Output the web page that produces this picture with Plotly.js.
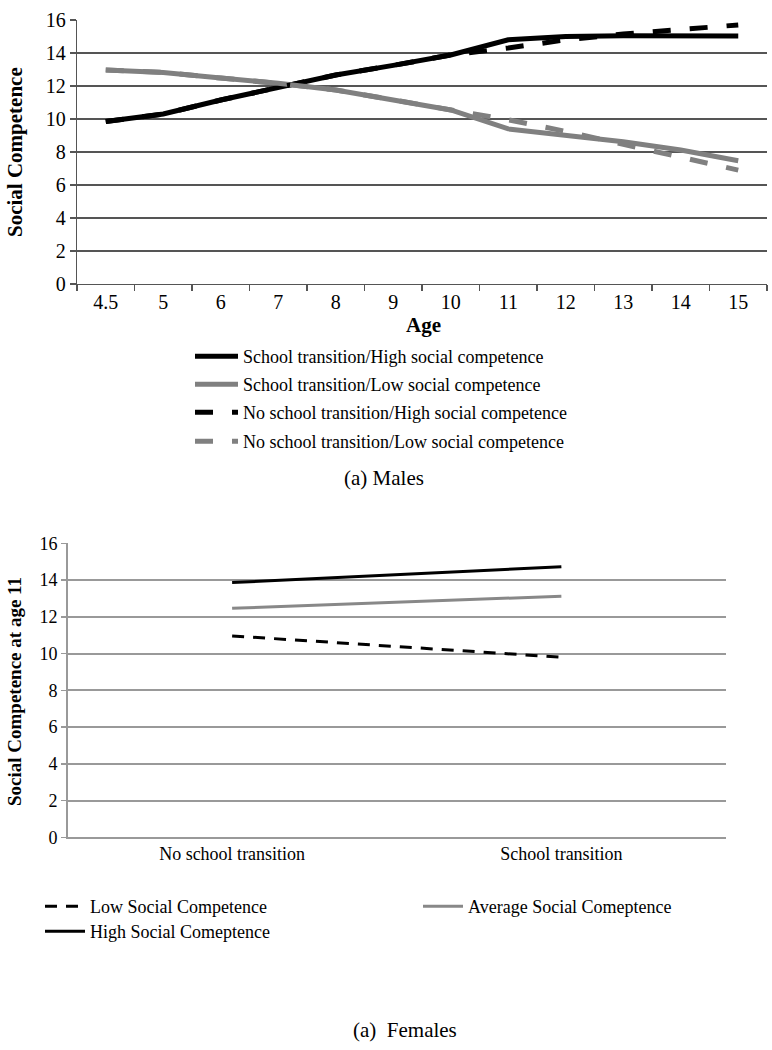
<!DOCTYPE html>
<html>
<head>
<meta charset="utf-8">
<script src="https://cdn.plot.ly/plotly-3.0.1.min.js"></script>
<style>html,body{margin:0;padding:0;background:#fff;}#chart{width:772px;height:1050px;}</style>
</head>
<body>
<div id="chart"></div>
<script>
// ---- Data: (a) Males ----
var ages = ["4.5","5","6","7","8","9","10","11","12","13","14","15"];
var stHigh  = [9.85, 10.3, 11.15, 11.9, 12.67, 13.25, 13.88, 14.8, 15.0, 15.05, 15.05, 15.03];
var stLow   = [12.97, 12.82, 12.48, 12.16, 11.76, 11.15, 10.55, 9.4, 9.03, 8.62, 8.12, 7.47];
var nstHigh = [9.85, 10.3, 11.15, 11.9, 12.67, 13.25, 13.88, 14.3, 14.8, 15.15, 15.4, 15.7];
var nstLow  = [12.97, 12.82, 12.48, 12.16, 11.76, 11.15, 10.55, 9.95, 9.25, 8.45, 7.7, 6.9];
var maleNames = ["School transition/High social competence",
                 "School transition/Low social competence",
                 "No school transition/High social competence",
                 "No school transition/Low social competence"];

// ---- Data: (a) Females ----
var conditions = ["No school transition", "School transition"];
var lowSC  = [10.96, 9.80];
var avgSC  = [12.46, 13.12];
var highSC = [13.86, 14.73];
var femaleNames = ["Low Social Competence", "Average Social Comeptence", "High Social Comeptence"];

var W = 772, H = 1050;
function px(x){ return x / W; }
function py(y){ return 1 - y / H; }
var serif = "Liberation Serif, Times New Roman, serif";
var BLACK = "#000000", GRAY = "#808080";

var traces = [
  {x: ages, y: stHigh, name: maleNames[0], mode: "lines", line: {color: BLACK, width: 5}, xaxis: "x", yaxis: "y", legend: "legend"},
  {x: ages, y: stLow, name: maleNames[1], mode: "lines", line: {color: GRAY, width: 5}, xaxis: "x", yaxis: "y", legend: "legend2"},
  {x: ages, y: nstHigh, name: maleNames[2], mode: "lines", line: {color: BLACK, width: 5, dash: "18px,19px"}, xaxis: "x", yaxis: "y", legend: "legend3"},
  {x: ages, y: nstLow, name: maleNames[3], mode: "lines", line: {color: GRAY, width: 5, dash: "18px,19px"}, xaxis: "x", yaxis: "y", legend: "legend4"},
  {x: conditions, y: lowSC, name: femaleNames[0], mode: "lines", line: {color: BLACK, width: 3, dash: "12px,9px"}, xaxis: "x2", yaxis: "y2", legend: "legend5"},
  {x: conditions, y: avgSC, name: femaleNames[1], mode: "lines", line: {color: "#888888", width: 3}, xaxis: "x2", yaxis: "y2", legend: "legend6"},
  {x: conditions, y: highSC, name: femaleNames[2], mode: "lines", line: {color: BLACK, width: 3}, xaxis: "x2", yaxis: "y2", legend: "legend7"}
];

function leg(xLeft, yCenter, size, iw){
  return {x: px(xLeft), y: py(yCenter), xanchor: "left", yanchor: "middle",
          bgcolor: "rgba(0,0,0,0)", borderwidth: 0, itemwidth: iw,
          font: {family: serif, size: size, color: "#000"}};
}

var layout = {
  width: W, height: H,
  margin: {l: 0, r: 0, t: 0, b: 0},
  paper_bgcolor: "#fff", plot_bgcolor: "#fff",
  font: {family: serif, color: "#000"},
  showlegend: true,
  xaxis: {
    domain: [px(77), px(767)], anchor: "y", type: "category",
    categoryorder: "array", categoryarray: ages, range: [-0.5, ages.length - 0.5],
    showgrid: false, showline: true, linecolor: "#555", linewidth: 1.3,
    ticks: "outside", tickson: "boundaries", ticklen: 6, tickcolor: "#555", tickwidth: 1.3,
    tickfont: {family: serif, size: 20, color: "#000"}, zeroline: false
  },
  yaxis: {
    domain: [py(284), py(20)], anchor: "x", range: [0, 16], dtick: 2,
    showgrid: true, gridcolor: "#555", gridwidth: 1.3,
    showline: true, linecolor: "#555", linewidth: 1.3,
    ticks: "outside", ticklen: 6, tickcolor: "#555", tickwidth: 1.3,
    tickfont: {family: serif, size: 20, color: "#000"}, zeroline: false
  },
  xaxis2: {
    domain: [px(67.5), px(726)], anchor: "y2", type: "category",
    categoryorder: "array", categoryarray: conditions, range: [-0.5, conditions.length - 0.5],
    showgrid: false, showline: true, linecolor: "#999", linewidth: 1.5,
    ticks: "", tickfont: {family: serif, size: 18, color: "#000"}, zeroline: false
  },
  yaxis2: {
    domain: [py(837.3), py(543.3)], anchor: "x2", range: [0, 16], dtick: 2,
    showgrid: true, gridcolor: "#999", gridwidth: 2,
    showline: true, linecolor: "#999", linewidth: 1.5,
    ticks: "outside", ticklen: 5, tickcolor: "#999", tickwidth: 1.5,
    tickfont: {family: serif, size: 18, color: "#000"}, zeroline: false
  },
  legend:  leg(190, 356.5, 18, 43),
  legend2: leg(190, 384.5, 18, 43),
  legend3: leg(190, 412.5, 18, 43),
  legend4: leg(190, 441.5, 18, 43),
  legend5: leg(40, 906.5, 18, 40),
  legend6: leg(418, 906.5, 18, 40),
  legend7: leg(40, 931.5, 18, 40),
  annotations: [
    {text: "<b>Social Competence</b>", xref: "paper", yref: "paper", x: px(15), y: py(152), textangle: -90,
     showarrow: false, font: {family: serif, size: 21, color: "#000"}, xanchor: "center", yanchor: "middle"},
    {text: "<b>Age</b>", xref: "paper", yref: "paper", x: px(424), y: py(325),
     showarrow: false, font: {family: serif, size: 21, color: "#000"}, xanchor: "center", yanchor: "middle"},
    {text: "(a) Males", xref: "paper", yref: "paper", x: px(384), y: py(478),
     showarrow: false, font: {family: serif, size: 21, color: "#000"}, xanchor: "center", yanchor: "middle"},
    {text: "<b>Social Competence at age 11</b>", xref: "paper", yref: "paper", x: px(15), y: py(692), textangle: -90,
     showarrow: false, font: {family: serif, size: 19, color: "#000"}, xanchor: "center", yanchor: "middle"},
    {text: "(a)  Females", xref: "paper", yref: "paper", x: px(405), y: py(1030),
     showarrow: false, font: {family: serif, size: 21, color: "#000"}, xanchor: "center", yanchor: "middle"}
  ]
};

Plotly.newPlot("chart", traces, layout, {staticPlot: true, displayModeBar: false});
</script>
</body>
</html>
